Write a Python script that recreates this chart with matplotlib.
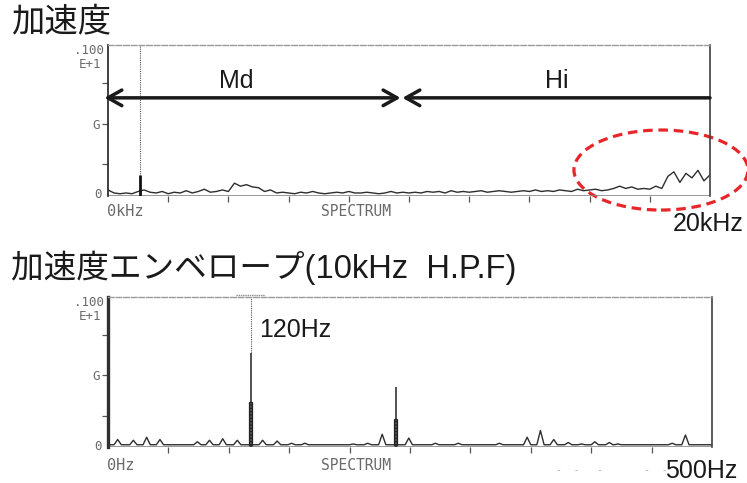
import numpy as np
import matplotlib
matplotlib.use('Agg')
import matplotlib.pyplot as plt
from matplotlib.patches import Ellipse

W, H = 747, 483

# 加速度 spectrum: 0-20 kHz every 0.2 kHz, in % of full scale (.100 E+1)
acc_amp = [4, 2, 1.5, 2, 1.5, 3, 4, 2.5, 2, 3,
           1.5, 2.5, 2, 3.5, 2, 3, 4.5, 2.5, 3, 4,
           3, 8.5, 6.5, 7.5, 6, 5.5, 3, 4, 2, 2.5,
           2, 1.5, 2.5, 2, 3, 2, 1.5, 2, 2.5, 2,
           3, 2, 2, 2.5, 2, 1.5, 2, 3, 2, 2.5,
           2, 2.5, 2, 3, 2.5, 3, 2, 3.5, 2.5, 3,
           2.5, 3, 3.5, 2.5, 3, 3.5, 3, 2.5, 3, 3.5,
           3, 4, 3, 3.5, 3, 4, 3.5, 3, 4.5, 3.5,
           4, 4.5, 3.5, 4, 5, 6.5, 5, 6, 4.5, 5,
           4.5, 6.5, 5, 13, 16, 9, 15, 12, 17, 10,
           14]
acc_spike_khz = 1.05
acc_spike_amp = 14
acc_xticks = [2, 4, 6, 8, 10, 12, 14, 16, 18]

# 加速度エンベロープ spectrum: 0-500 Hz, peaks in % of full scale
env_peak_hz = [8, 21, 32, 43, 74, 84, 95, 107, 128, 140, 152, 163, 203, 215, 227,
               249, 271, 290, 324, 347, 358, 369, 381, 392, 403, 415, 422, 467, 478]
env_peak_amp = [5, 4.5, 6.5, 5, 3.5, 4.5, 5.5, 4.5, 4.5, 4, 2.5, 2.5, 2, 2.5, 8.5,
                6, 2.5, 2.5, 2.5, 6.5, 11, 5, 3, 2, 3.5, 3, 2, 2.5, 8]
env_floor = 1.5
env_main_hz = [118, 238]
env_main_top = [63, 40]
env_main_bar = [30, 19]
env_xticks = [50, 100, 150, 200, 250, 300, 350, 400, 450]

yticks = [21, 48, 75]
ytick_labels = ['', 'G', '']

sans = ['Liberation Sans', 'Noto Sans CJK JP']
mono = dict(family='DejaVu Sans Mono', color='#6a6a6a')
trace_c = '#2e2e2e'


def ptext(x, y, s, **kw):
    fig.text(x / W, 1 - y / H, s, **kw)


def style_axes(ax, left_lw):
    ax.spines['bottom'].set_visible(False)
    ax.spines['top'].set_linestyle((0, (4, 1.5)))
    ax.spines['top'].set_color('#9a9a9a')
    ax.spines['top'].set_linewidth(1.0)
    ax.spines['left'].set_linewidth(left_lw)
    ax.spines['left'].set_color('#303030')
    ax.spines['right'].set_linewidth(1.2)
    ax.spines['right'].set_color('#404040')
    ax.set_ylim(0, 100)
    ax.set_yticks(yticks, ytick_labels)
    ax.tick_params(axis='y', direction='out', length=4, width=0.9, color='#555555',
                   labelsize=9, labelcolor='#6a6a6a', pad=2)
    for lab in ax.get_yticklabels():
        lab.set_family('DejaVu Sans Mono')
    ax.tick_params(axis='x', direction='out', length=4, width=0.9, color='#555555',
                   labelbottom=False)


fig = plt.figure(figsize=(W / 100, H / 100), dpi=100)

# ---- top: 加速度 ----
ax1 = fig.add_axes([108 / W, 1 - 196 / H, 602 / W, 151 / H])
style_axes(ax1, 1.3)
freq = np.linspace(0, 20, len(acc_amp))
ax1.plot(freq, acc_amp, color=trace_c, lw=1.0)
ax1.axhline(0.6, color='#888888', lw=0.6)
ax1.axvline(acc_spike_khz, ls=(0, (1, 1)), lw=0.8, color='#555555')
ax1.vlines(acc_spike_khz, 0, acc_spike_amp, color='#111111', lw=2)
ax1.set_xlim(0, 20)
ax1.set_xticks(acc_xticks)

arrow_kw = dict(lw=2.5, color='#1a1a1a', shrinkA=0, shrinkB=0)
ax1.annotate('', xy=(-0.12, 65), xytext=(9.72, 65), annotation_clip=False,
             arrowprops=dict(arrowstyle='<->,head_length=0.5,head_width=0.28',
                             mutation_scale=20, **arrow_kw))
ax1.annotate('', xy=(9.78, 65), xytext=(20, 65), annotation_clip=False,
             arrowprops=dict(arrowstyle='->,head_length=0.5,head_width=0.28',
                             mutation_scale=20, **arrow_kw))
ax1.add_patch(Ellipse((18.37, 17.2), 5.78, 53, fill=False, ec='#e8262a',
                      lw=2.3, ls=(0, (3.0, 1.8)), clip_on=False))

# ---- bottom: 加速度エンベロープ ----
ax2 = fig.add_axes([108 / W, 1 - 447 / H, 604 / W, 150 / H])
style_axes(ax2, 2.4)
xs, ys = [0], [env_floor]
for f, a in zip(env_peak_hz, env_peak_amp):
    xs += [f - 3, f, f + 3]
    ys += [env_floor, a, env_floor]
xs.append(500)
ys.append(env_floor)
ax2.plot(xs, ys, color=trace_c, lw=1.0)
ax2.axhline(0.6, color='#888888', lw=0.6)
ax2.vlines(env_main_hz[0], env_main_top[0], 100, ls=(0, (1, 1)), lw=0.8, color='#555555')
ax2.vlines(env_main_hz, 0, env_main_top, color='#222222', lw=1.1)
ax2.bar(env_main_hz, env_main_bar, width=3.2, color='white', edgecolor='#222222',
        lw=0.9, hatch='-----')
ax2.plot([env_main_hz[0] - 12, env_main_hz[0] + 12], [101.5, 101.5], ls=(0, (1, 0.6)),
         color='#8a8a8a', lw=1.0, clip_on=False)
ax2.set_xlim(0, 500)
ax2.set_xticks(env_xticks)

# ---- texts ----
ptext(11, 23, '加速度', family=sans, fontsize=24, va='center', color='#1a1a1a')
ptext(11, 268, '加速度エンベロープ(10kHz  H.P.F)', family=sans, fontsize=23.5,
      va='center', color='#1a1a1a')

for top, zero in [(45, 195), (297, 447)]:
    ptext(104, top + 6, '.100', ha='right', va='center', fontsize=9, **mono)
    ptext(101, top + 19, 'E+1', ha='right', va='center', fontsize=9, **mono)
    ptext(102, zero, '0', ha='right', va='center', fontsize=9, **mono)

ptext(107, 212, '0kHz', va='center', fontsize=11, **mono)
ptext(321, 212, 'SPECTRUM', va='center', fontsize=10.5, **mono)
ptext(107, 465, '0Hz', va='center', fontsize=11, **mono)
ptext(321, 465, 'SPECTRUM', va='center', fontsize=10.5, **mono)

ptext(236, 81, 'Md', family=sans, fontsize=18, ha='center', va='center', color='#1a1a1a')
ptext(557, 81, 'Hi', family=sans, fontsize=18, ha='center', va='center', color='#1a1a1a')
ptext(708, 224, '20kHz', family=sans, fontsize=18, ha='center', va='center', color='#1a1a1a')
ptext(259, 330, '120Hz', family=sans, fontsize=18, va='center', color='#1a1a1a')
ptext(701, 471, '500Hz', family=sans, fontsize=18, ha='center', va='center', color='#1a1a1a')
ptext(612, 470, '-  -   -       -  -', ha='center', va='center', fontsize=7, color='#b0b0b0',
      family='DejaVu Sans Mono')

fig.savefig('out.png', dpi=100)
